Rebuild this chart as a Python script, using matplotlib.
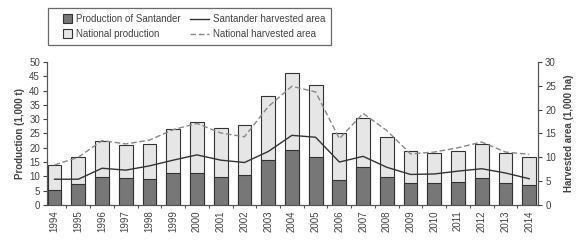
import matplotlib.pyplot as plt
import numpy as np
from matplotlib import font_manager
from matplotlib.patches import Rectangle
from matplotlib.container import BarContainer
from matplotlib.legend_handler import HandlerPatch

years = list(range(1994, 2015))
national_prod = [14.1, 16.8, 22.3, 21.0, 21.2, 26.5, 29.1, 26.8, 28.0, 38.0, 46.2,
                 41.8, 25.1, 30.5, 23.9, 19.0, 18.0, 19.0, 21.2, 18.0, 16.8]
santander_prod = [5.2, 7.2, 9.7, 9.3, 9.0, 11.0, 11.3, 9.7, 10.6, 15.8, 19.3,
                  16.7, 8.6, 13.4, 9.9, 7.8, 7.8, 8.0, 9.3, 7.8, 7.1]
national_area = [8.4, 10.0, 13.5, 12.8, 13.6, 15.8, 17.1, 15.1, 14.3, 20.6, 24.9,
                 23.7, 13.9, 19.2, 15.6, 10.7, 11.1, 12.0, 13.2, 11.1, 10.6]
santander_area = [5.4, 5.4, 7.7, 7.3, 8.2, 9.4, 10.5, 9.4, 8.9, 11.2, 14.6,
                  14.2, 9.0, 10.2, 7.9, 6.4, 6.5, 7.1, 7.6, 6.7, 5.5]

installed = {f.name for f in font_manager.fontManager.ttflist}
narrow = 'Liberation Sans Narrow' in installed
plt.rcParams['font.family'] = ['Liberation Sans Narrow' if narrow else 'Liberation Sans',
                               'DejaVu Sans']
fs = 7.5 if narrow else 7
txt = '#444444'

fig = plt.figure(figsize=(5.8, 2.4), dpi=100)
ax = fig.add_axes([0.081, 0.146, 0.847, 0.596])
ax2 = ax.twinx()

x = np.arange(len(years))
w = 0.58
ax.bar(x, national_prod, width=w, color='#e6e6e6', edgecolor='#333333',
       linewidth=0.8, label='National production', zorder=2)
ax.bar(x, santander_prod, width=w, color='#777777', edgecolor='#333333',
       linewidth=0.8, label='Production of Santander', zorder=3)

ax2.plot(x, santander_area, color='#333333', lw=1.0, label='Santander harvested area')
ax2.plot(x, national_area, color='#888888', lw=1.0, ls=(0, (4, 2)),
         label='National harvested area')

ax.set_xlim(-0.32, len(years) - 0.62)
ax.set_ylim(0, 50)
ax2.set_ylim(0, 30)
ax.set_yticks(range(0, 51, 5))
ax2.set_yticks(range(0, 31, 5))
ax.set_xticks(x, [str(y) for y in years], rotation=90)
ax.set_xticks(x[:-1] + 0.5, minor=True)

for a in (ax, ax2):
    a.spines['top'].set_visible(False)
    for s in a.spines.values():
        s.set_color('#555555')
        s.set_linewidth(0.8)
    a.tick_params(labelsize=fs, colors=txt, length=3, width=0.8, pad=2)
ax.tick_params(axis='x', which='major', length=0, pad=4)
ax.tick_params(axis='x', which='minor', length=2.5, width=0.8, colors='#555555')
ax2.patch.set_visible(False)

ax.set_ylabel('Production (1,000 t)', fontsize=fs, fontweight='bold', color=txt, labelpad=3)
ax2.set_ylabel('Harvested area (1,000 ha)', fontsize=fs, fontweight='bold', color=txt, labelpad=6)


def small_square(legend, orig_handle, xdescent, ydescent, width, height, fontsize):
    s = 6.5
    return Rectangle((width - xdescent - s, -ydescent + (height - s) / 2), s, s)


def from_first_bar(legend_handle, orig_handle):
    legend_handle.update_from(orig_handle.patches[0])


h1, l1 = ax.get_legend_handles_labels()
h2, l2 = ax2.get_legend_handles_labels()
handles = [h1[1], h1[0], h2[0], h2[1]]
labels = [l1[1], l1[0], l2[0], l2[1]]
leg = fig.legend(handles, labels, ncol=2, loc='upper left',
                 bbox_to_anchor=(0.074, 0.985), fontsize=fs, frameon=True,
                 fancybox=False, edgecolor='#444444', handlelength=1.9,
                 handleheight=0.7, columnspacing=1.0, labelspacing=0.5,
                 borderpad=0.6, handletextpad=0.4,
                 handler_map={BarContainer: HandlerPatch(patch_func=small_square,
                                                         update_func=from_first_bar)})
leg.get_frame().set_linewidth(0.9)
for t in leg.get_texts():
    t.set_color(txt)

fig.savefig('out.png', dpi=100)
